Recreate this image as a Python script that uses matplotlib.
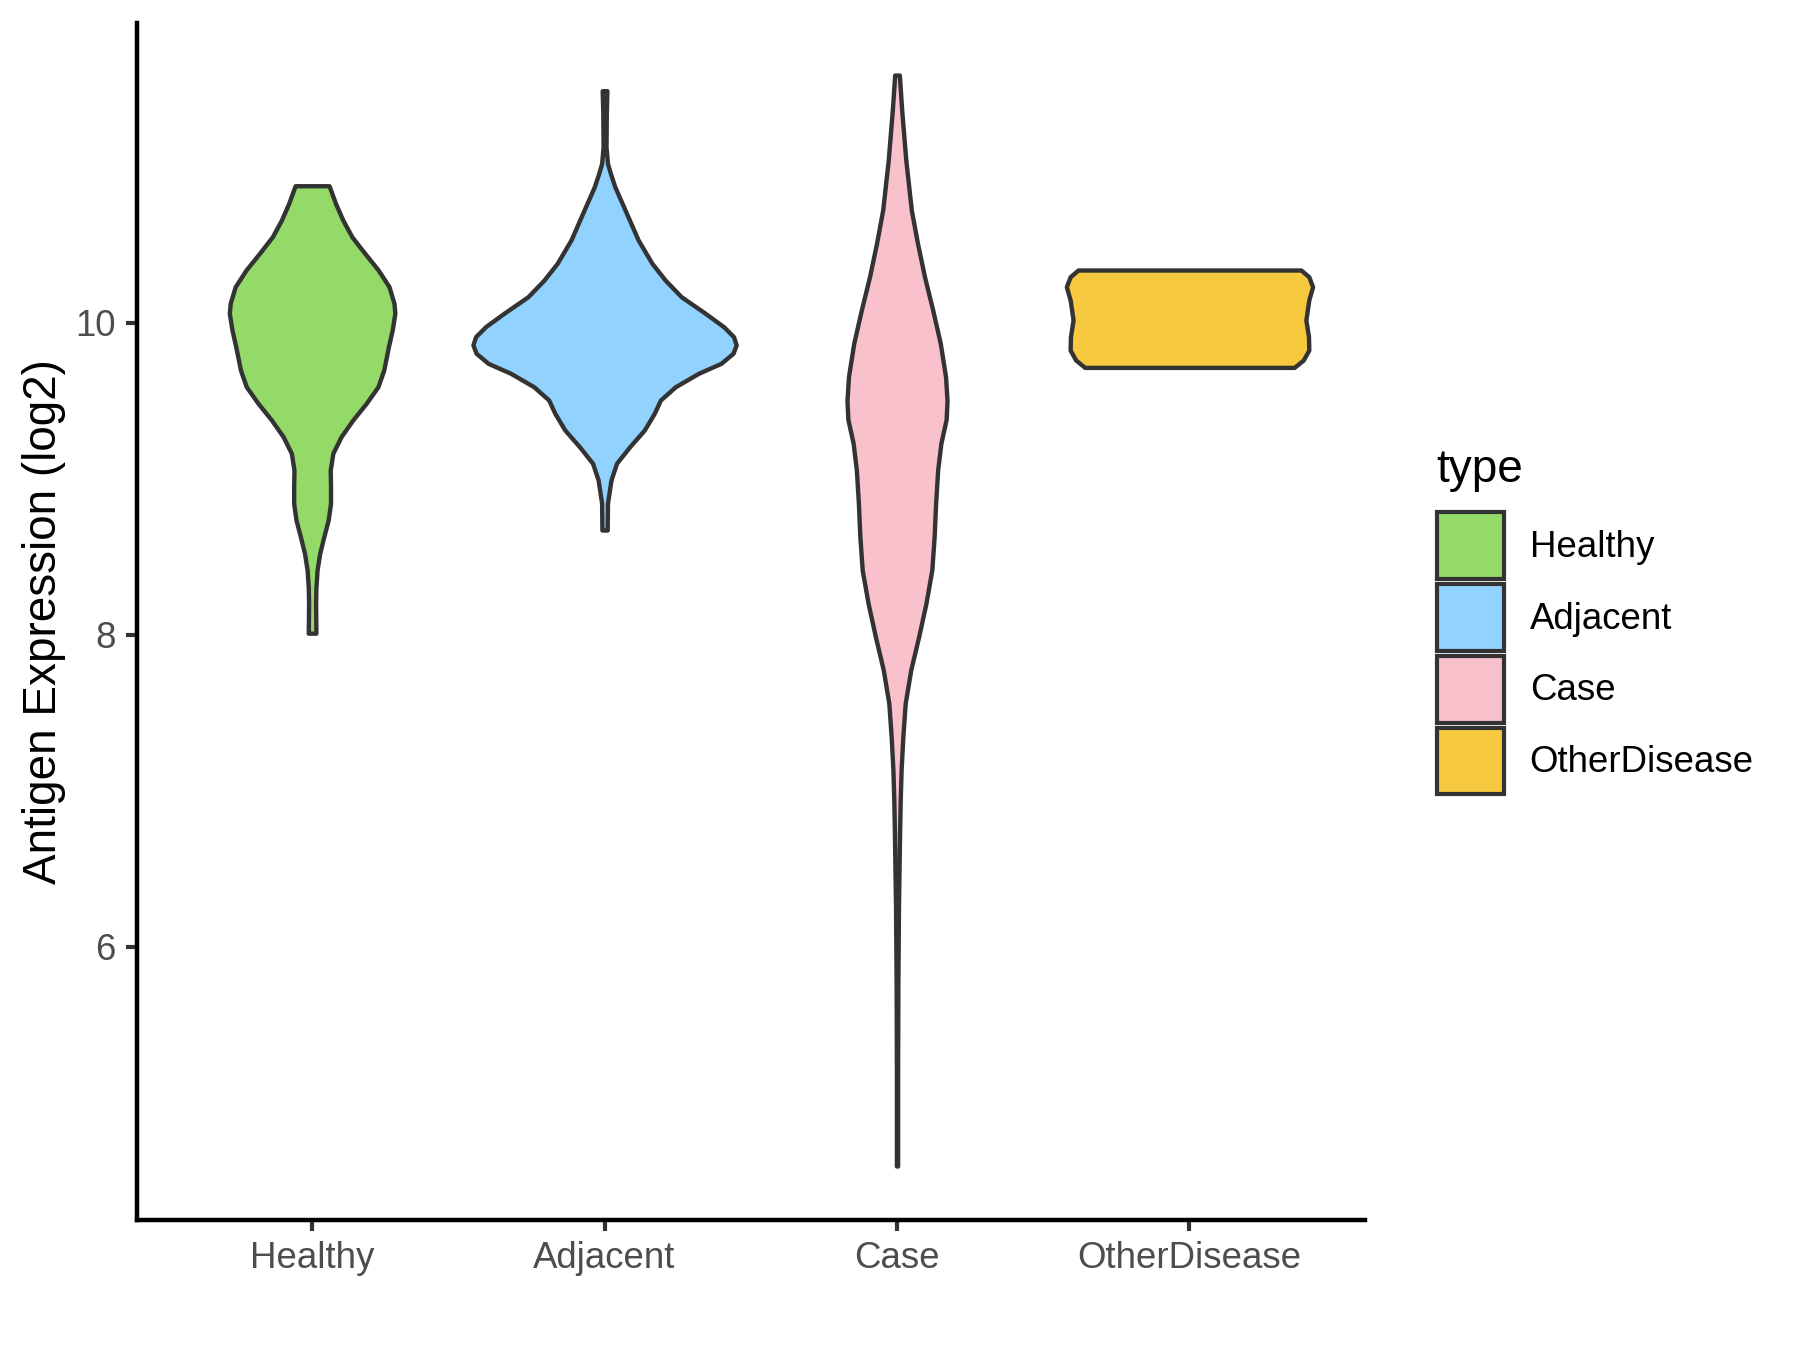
import matplotlib.pyplot as plt
from matplotlib.patches import Patch

plt.rcParams['font.family'] = ['Liberation Sans', 'DejaVu Sans']

# groups and fill colours
categories = ['Healthy', 'Adjacent', 'Case', 'OtherDisease']
colors = ['#93DA69', '#91D2FF', '#F8C1CC', '#F6C93F']

# violin outlines: expression value and half width (in category units)
healthy_y = [10.877, 10.764, 10.657, 10.550, 10.444, 10.337, 10.230, 10.124, 10.060, 9.953,
             9.846, 9.696, 9.589, 9.483, 9.376, 9.269, 9.163, 9.056, 8.949, 8.842,
             8.735, 8.628, 8.522, 8.415, 8.300, 8.202, 8.010]
healthy_w = [0.058, 0.080, 0.105, 0.136, 0.180, 0.226, 0.263, 0.280, 0.283, 0.274,
             0.261, 0.245, 0.225, 0.185, 0.139, 0.099, 0.071, 0.062, 0.063, 0.063,
             0.055, 0.040, 0.026, 0.017, 0.013, 0.012, 0.013]

adjacent_y = [11.486, 11.341, 11.127, 11.020, 10.956, 10.871, 10.700, 10.529, 10.380, 10.273,
              10.166, 10.060, 9.974, 9.910, 9.857, 9.803, 9.739, 9.675, 9.589, 9.504,
              9.419, 9.312, 9.205, 9.099, 8.992, 8.842, 8.671]
adjacent_w = [0.008, 0.006, 0.005, 0.010, 0.020, 0.035, 0.075, 0.115, 0.162, 0.207,
              0.262, 0.344, 0.407, 0.441, 0.450, 0.439, 0.398, 0.321, 0.242, 0.191,
              0.170, 0.136, 0.086, 0.041, 0.022, 0.010, 0.009]

case_y = [11.586, 11.362, 11.042, 10.721, 10.508, 10.294, 10.081, 9.867, 9.653, 9.500,
          9.380, 9.227, 9.056, 8.842, 8.629, 8.415, 8.202, 7.988, 7.775, 7.561,
          7.348, 7.134, 6.942, 6.752, 6.500, 6.261, 6.000, 5.771, 5.200, 4.596]
case_w = [0.008, 0.016, 0.030, 0.049, 0.070, 0.094, 0.122, 0.148, 0.166, 0.171,
          0.168, 0.150, 0.139, 0.132, 0.127, 0.119, 0.099, 0.074, 0.047, 0.028,
          0.020, 0.014, 0.011, 0.009, 0.007, 0.005, 0.004, 0.003, 0.002, 0.002]

other_y = [10.337, 10.294, 10.230, 10.145, 10.017, 9.910, 9.824, 9.760, 9.713]
other_w = [0.381, 0.408, 0.421, 0.408, 0.398, 0.407, 0.408, 0.389, 0.358]

profiles = [(healthy_y, healthy_w), (adjacent_y, adjacent_w),
            (case_y, case_w), (other_y, other_w)]

fig = plt.figure(figsize=(6, 4.5), dpi=300)
ax = fig.add_axes([0.0759, 0.0963, 0.6824, 0.8867])

for i, (ys, ws) in enumerate(profiles):
    pos = i + 1
    left = [pos - w for w in ws]
    right = [pos + w for w in ws]
    ax.fill_betweenx(ys, left, right, facecolor=colors[i], edgecolor='#333333',
                     linewidth=1.05, joinstyle='round')

ax.set_xlim(0.4, 4.6)
ax.set_ylim(4.25, 11.92)
ax.set_xticks(range(1, 5))
ax.set_xticklabels(categories)
ax.set_yticks([6, 8, 10])
ax.set_yticklabels(['6', '8', '10'])

ax.spines['top'].set_visible(False)
ax.spines['right'].set_visible(False)
for s in ['left', 'bottom']:
    ax.spines[s].set_linewidth(1.07)
    ax.spines[s].set_color('black')
ax.tick_params(axis='both', length=2.75, width=1.0, color='#333333',
               labelsize=8.8, labelcolor='#4D4D4D', pad=2.2)

ax.set_ylabel('Antigen Expression (log2)', fontsize=11, color='black', labelpad=2.2)

# legend: square keys, title placed separately so the gap matches
handles = [Patch(facecolor=c, edgecolor='#333333', linewidth=1.0) for c in colors]
leg = ax.legend(handles, categories, loc='upper left',
                bbox_to_anchor=(0.7985, 0.6205), bbox_transform=fig.transFigure,
                frameon=False, fontsize=8.8,
                handlelength=1.82, handleheight=2.42, labelspacing=0.14,
                handletextpad=0.7, borderpad=0, borderaxespad=0)
fig.text(0.798, 0.643, 'type', fontsize=11, ha='left', va='baseline')

fig.savefig('out.png', dpi=300)
